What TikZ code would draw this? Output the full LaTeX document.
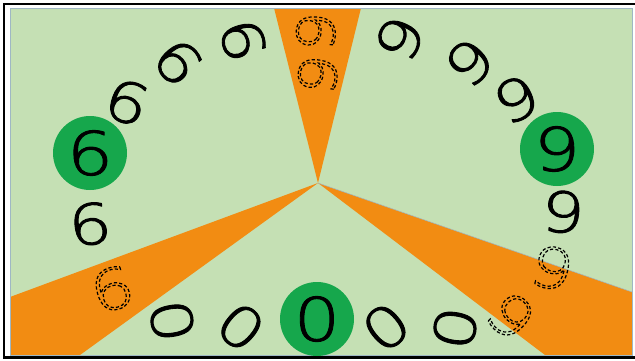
\documentclass[tikz,border=0pt]{standalone}
\usepackage{fontspec}
\newfontfamily\hand[FakeStretch=1.22]{DejaVu Sans ExtraLight}
\definecolor{bg}{HTML}{C5E0B4}
\definecolor{wedgec}{HTML}{F28C12}
\definecolor{discc}{HTML}{16A74C}
\definecolor{edgec}{HTML}{9FB7C4}
\newcommand{\solidd}[1]{\special{pdf:literal direct 2 Tr 0.9 w 1 J 1 j}#1\special{pdf:literal direct 0 Tr}}
\newcommand{\dashd}[1]{\special{pdf:literal direct 1 Tr 1.2 w [3.2 2.2] 0 d}#1\special{pdf:literal direct 0 Tr [] 0 d}}
\tikzset{
  dg/.style={font=\hand\fontsize{56}{56}\selectfont, inner sep=0pt, text=black},
  dgs/.style={font=\hand\fontsize{52}{52}\selectfont, inner sep=0pt, text=black},
  bigdg/.style={font=\hand\fontsize{60}{60}\selectfont, inner sep=0pt, text=black},
  disc/.style={circle, fill=discc, minimum size=74pt, inner sep=0pt},
  wedge/.style={fill=wedgec, draw=none},
  frameline/.style={line width=2.5pt, black}
}
\begin{document}
\begin{tikzpicture}[x=1pt,y=-1pt]
\useasboundingbox (0,0) rectangle (635,360);
\fill[white] (0,0) rectangle (635,360);
% frame
\draw[frameline] (3,4) -- (635,4);
\draw[frameline] (4,3) -- (4,358);
\draw[frameline] (3,357.5) -- (635,357.5);
% green field
\fill[bg] (10,8) rectangle (632,355);
\coordinate (ctr) at (318,183);
\begin{scope}
  \clip (10,8) rectangle (632,355);
  \fill[wedge] (ctr) -- (274,8) -- (361,8) -- cycle;
  \fill[wedge] (ctr) -- (10,297) -- (10,355) -- (80,355) -- cycle;
  \fill[wedge] (ctr) -- (632,292) -- (632,355) -- (545,355) -- cycle;
  \draw[edgec, line width=0.5pt] (ctr) -- (632,292);
\end{scope}
\draw[edgec, line width=0.6pt] (10,8) rectangle (632,355);
% discs
\node[disc] (d6) at (90,153) {};
\node[disc] (d9) at (557,149) {};
\node[disc] (d0) at (317,319) {};
\node[bigdg] (t6) at (d6) {\solidd{6}};
\node[bigdg] (t9) at (d9) {\solidd{9}};
\node[bigdg] (t0) at (d0) {\solidd{0}};
% upper arc
\node[dg, rotate=-20] (a) at (127,102) {\solidd{6}};
\node[dg, rotate=-50] (b) at (178,62) {\solidd{6}};
\node[dg, rotate=-75] (c) at (243,40) {\solidd{6}};
\node[dgs, rotate=-95] (d) at (316,31) {\dashd{6}};
\node[dgs, rotate=-100] (e) at (318,74) {\dashd{6}};
\node[dg, rotate=-115] (f) at (400,38) {\solidd{6}};
\node[dg, rotate=-135] (g) at (470,62) {\solidd{6}};
\node[dg, rotate=-155] (h) at (517,99) {\solidd{6}};
% right side
\node[dg, rotate=-5] (i) at (563,212) {\solidd{9}};
\node[dg, rotate=-15] (j) at (552,268) {\dashd{9}};
\node[dg, rotate=-45] (k) at (511,316) {\dashd{9}};
% bottom
\node[dg, rotate=80] (l) at (455,328) {\solidd{0}};
\node[dg, rotate=40] (m) at (386,327) {\solidd{0}};
\node[dg, rotate=-40] (n) at (241,327) {\solidd{0}};
\node[dg, rotate=-80] (o) at (172,321) {\solidd{0}};
% left side
\node[dg, rotate=15] (p) at (112,289) {\dashd{6}};
\node[dg, rotate=5] (q) at (90,224) {\solidd{6}};
\end{tikzpicture}
\end{document}
